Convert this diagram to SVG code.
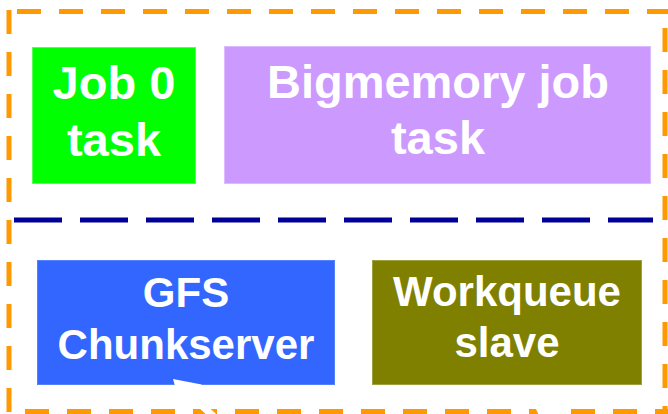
<svg xmlns="http://www.w3.org/2000/svg" width="668" height="414" viewBox="0 0 668 414">
  <style>
    .frame { stroke: #ff9900; stroke-width: 5; stroke-dasharray: 24 18; fill: none; }
    .split { stroke: #000099; stroke-width: 5; stroke-dasharray: 48 18; fill: none; }
    .box { stroke-width: 1; }
    .label { font-family: "Liberation Sans", Arial, sans-serif; font-weight: bold; fill: #ffffff; text-anchor: middle; }
    .big { font-size: 47px; }
    .mid { font-size: 42px; }
    .flow { stroke: #ffffff; stroke-width: 7; fill: none; }
    .head { fill: #ffffff; stroke: none; }
  </style>

  <!-- machine boundary (orange dashed frame) -->
  <g id="machine">
    <line class="frame" x1="17" y1="11.5" x2="668" y2="11.5"/>
    <line class="frame" x1="665" y1="28" x2="665" y2="414"/>
    <line class="frame" x1="25" y1="411.5" x2="668" y2="411.5"/>
    <line class="frame" x1="9" y1="10" x2="9" y2="414"/>
  </g>

  <!-- divider between tasks and system daemons -->
  <g id="divider">
    <line class="split" x1="14" y1="220" x2="653" y2="220"/>
  </g>

  <g id="job0">
    <rect class="box" x="32.5" y="47.5" width="163" height="136" fill="#00ff00" stroke="#55ff55"/>
    <text class="label big" x="114" y="99">Job 0</text>
    <text class="label big" x="114" y="156">task</text>
  </g>

  <g id="bigmemory">
    <rect class="box" x="224.5" y="46.5" width="426" height="137" fill="#cc99ff" stroke="#ddbbff"/>
    <text class="label big" x="438" y="98">Bigmemory job</text>
    <text class="label big" x="438" y="154">task</text>
  </g>

  <g id="gfs">
    <rect class="box" x="37.5" y="260.5" width="297" height="124" fill="#3366ff" stroke="#5580ff"/>
    <text class="label mid" x="186" y="307">GFS</text>
    <text class="label mid" x="186" y="359">Chunkserver</text>
  </g>

  <g id="workqueue">
    <rect class="box" x="372.5" y="260.5" width="269" height="124" fill="#808000" stroke="#a0a040"/>
    <text class="label mid" x="507" y="306">Workqueue</text>
    <text class="label mid" x="507" y="357">slave</text>
  </g>

  <!-- white flow arrows entering from below -->
  <g id="connectors">
    <line class="flow" x1="191" y1="396" x2="222" y2="424"/>
    <polygon class="head" points="173,379 201.6,384.6 181.6,408.8"/>
    <line class="flow" x1="556" y1="414" x2="600" y2="440"/>
    <polygon class="head" points="534,405 567,408 547,432"/>
  </g>
</svg>
